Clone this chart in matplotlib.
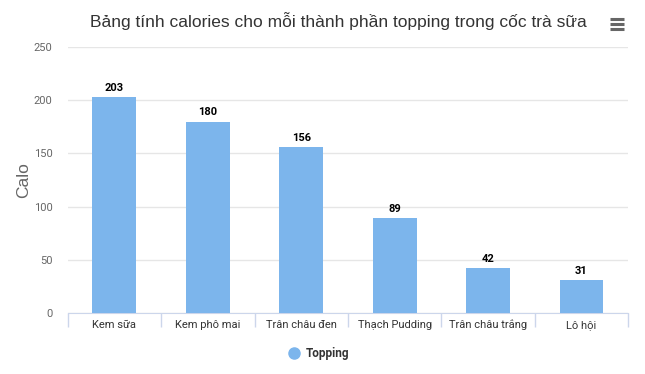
import matplotlib.pyplot as plt
from matplotlib.lines import Line2D

toppings = ["Kem sữa", "Kem phô mai", "Trân châu đen", "Thạch Pudding", "Trân châu trắng", "Lô hội"]
calories = [203, 180, 156, 89, 42, 31]
yticks = [0, 50, 100, 150, 200, 250]

bar_color = "#7cb5ec"
plt.rcParams["font.family"] = ["Roboto", "DejaVu Sans"]

fig = plt.figure(figsize=(6.45, 3.74), dpi=100)
ax = fig.add_axes([0.105, 0.163, 0.869, 0.711])

x = range(len(toppings))
bars = ax.bar(x, calories, width=0.47, color=bar_color, zorder=3)

for b, v in zip(bars, calories):
    ax.text(b.get_x() + b.get_width() / 2, v + 4, str(v), ha="center", va="bottom",
            fontsize=8, fontweight="bold", color="black", zorder=4)

ax.set_xlim(-0.5, len(toppings) - 0.5)
ax.set_ylim(0, 250)
ax.set_yticks(yticks)
ax.set_yticklabels([str(t) for t in yticks], fontsize=8, color="#666666")
ax.yaxis.grid(True, color="#e6e6e6", linewidth=1)
ax.tick_params(axis="y", length=0, pad=11)

# category labels drawn at a common baseline so accents don't shift them
ax.set_xticks(list(x))
ax.set_xticklabels([])
ax.tick_params(axis="x", length=0)
for i, name in zip(x, toppings):
    ax.text(i, -0.055, name, transform=ax.get_xaxis_transform(), ha="center",
            va="baseline", fontsize=8, color="#333333")
# tick marks between categories
ax.set_xticks([i + 0.5 for i in range(-1, len(toppings))], minor=True)
ax.tick_params(axis="x", which="minor", length=10, color="#ccd6eb", width=1)

for s in ["top", "right", "left"]:
    ax.spines[s].set_visible(False)
ax.spines["bottom"].set_color("#ccd6eb")
ax.set_axisbelow(True)

ax.set_ylabel("Calo", fontsize=12.5, color="#666666", family="Liberation Sans")
ax.yaxis.set_label_coords(-0.066, 0.5)

fig.text(0.525, 0.945, "Bảng tính calories cho mỗi thành phần topping trong cốc trà sữa",
         ha="center", va="center", fontsize=12.5, color="#333333",
         family=["Liberation Sans", "DejaVu Sans"])

# hamburger menu icon
for yy in [0.922, 0.935, 0.948]:
    fig.add_artist(Line2D([0.945, 0.968], [yy, yy], color="#666666", linewidth=2.2,
                          solid_capstyle="butt"))

# legend
fig.add_artist(Line2D([0.456], [0.056], marker="o", markersize=8, color=bar_color,
                      linestyle="none"))
fig.text(0.474, 0.056, "Topping", ha="left", va="center", fontsize=8.5,
         fontweight="bold", color="#333333")

fig.savefig("out.png", dpi=100)
